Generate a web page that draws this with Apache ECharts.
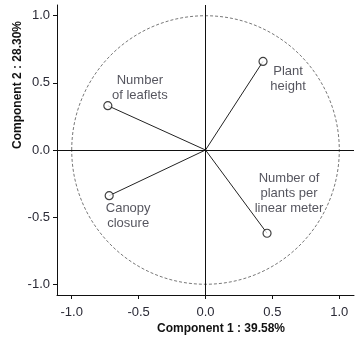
<!DOCTYPE html>
<html>
<head>
<meta charset="utf-8">
<style>html,body{margin:0;padding:0;background:#fff}#c{width:357px;height:340px}</style>
<script src="https://cdn.jsdelivr.net/npm/echarts@6/dist/echarts.min.js"></script>
</head>
<body>
<div id="c"></div>
<script>
var variableNames = ['Number\nof leaflets', 'Plant\nheight', 'Canopy\nclosure', 'Number of\nplants per\nlinear meter'];
var comp1 = [-0.73, 0.43, -0.72, 0.46];
var comp2 = [0.33, 0.66, -0.34, -0.62];
var xTicks = [-1.0, -0.5, 0.0, 0.5, 1.0];
var yTicks = [-1.0, -0.5, 0.0, 0.5, 1.0];
var xTitle = 'Component 1 : 39.58%';
var yTitle = 'Component 2 : 28.30%';
var labelOffsets = [[32, -18], [25, 18], [19, 20], [22, -40]];

var FONT = '"Liberation Sans Narrow", "Liberation Sans", Arial, sans-serif';
var chart = echarts.init(document.getElementById('c'), null, {renderer: 'canvas'});

var series = [];
for (var i = 0; i < comp1.length; i++) {
  series.push({
    type: 'line',
    data: [[0, 0], [comp1[i], comp2[i]]],
    symbol: 'none',
    lineStyle: {color: '#222', width: 1},
    silent: true, animation: false, z: 3
  });
}
series.push({
  type: 'scatter',
  data: comp1.map(function (v, i) {
    return {
      value: [v, comp2[i]],
      label: {offset: labelOffsets[i]},
      name: variableNames[i]
    };
  }),
  symbol: 'circle',
  symbolSize: 8,
  itemStyle: {color: '#fff', borderColor: '#111', borderWidth: 1.2},
  label: {
    show: true, position: 'inside', align: 'center', verticalAlign: 'middle',
    formatter: function (p) { return p.name; },
    fontFamily: FONT, fontSize: 13, lineHeight: 15, color: '#2a2a36'
  },
  z: 5, animation: false
});
series.push({
  type: 'line', data: [], animation: false,
  markLine: {
    silent: true, symbol: 'none', label: {show: false},
    lineStyle: {color: '#111', width: 1, type: 'solid'},
    data: [{xAxis: 0}, {yAxis: 0}]
  }
});

chart.setOption({
  animation: false,
  grid: {left: 57, right: 3, top: 5, bottom: 45, containLabel: false, outerBoundsMode: 'none'},
  xAxis: {
    type: 'value', min: -1.11, max: 1.11,
    axisLine: {onZero: false, lineStyle: {color: '#111', width: 1}},
    axisTick: {show: true, length: 4, lineStyle: {color: '#111'}, customValues: xTicks},
    axisLabel: {fontFamily: FONT, fontSize: 13, color: '#2a2a36', margin: 11,
      customValues: xTicks, formatter: function (v) { return v.toFixed(1); }},
    splitLine: {show: false},
    name: xTitle, nameLocation: 'middle', nameGap: 28, nameMoveOverlap: false,
    nameTextStyle: {fontFamily: FONT, fontSize: 12, fontWeight: 'bold', color: '#111', padding: [0, 0, 0, 31]}
  },
  yAxis: {
    type: 'value', min: -1.08, max: 1.08,
    axisLine: {onZero: false, lineStyle: {color: '#111', width: 1}},
    axisTick: {show: true, length: 4, lineStyle: {color: '#111'}, customValues: yTicks},
    axisLabel: {fontFamily: FONT, fontSize: 13, color: '#2a2a36', margin: 7,
      customValues: yTicks, formatter: function (v) { return v.toFixed(1); }},
    splitLine: {show: false},
    name: yTitle, nameLocation: 'middle', nameGap: 33, nameMoveOverlap: false,
    nameTextStyle: {fontFamily: FONT, fontSize: 12, fontWeight: 'bold', color: '#111', padding: [0, 0, 0, 130]}
  },
  series: series
});

var c0 = chart.convertToPixel({gridIndex: 0}, [0, 0]);
var c1 = chart.convertToPixel({gridIndex: 0}, [1, 0]);
var c2 = chart.convertToPixel({gridIndex: 0}, [0, 1]);
chart.setOption({
  graphic: [{
    type: 'ellipse', silent: true, z: 1,
    shape: {cx: c0[0], cy: c0[1], rx: c1[0] - c0[0], ry: c0[1] - c2[1]},
    style: {fill: 'none', stroke: '#555', lineWidth: 0.8, lineDash: [3, 2]}
  }]
});
</script>
</body>
</html>
